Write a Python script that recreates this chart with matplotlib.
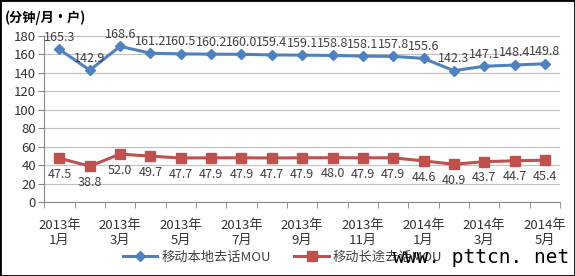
import matplotlib
matplotlib.use("Agg")
import matplotlib.pyplot as plt
from matplotlib.patches import Rectangle

plt.rcParams['font.family'] = ['Noto Sans CJK SC', 'DejaVu Sans']

months = ['2013年\n1月', '', '2013年\n3月', '', '2013年\n5月', '', '2013年\n7月', '',
          '2013年\n9月', '', '2013年\n11月', '', '2014年\n1月', '', '2014年\n3月', '',
          '2014年\n5月']
local_mou = [165.3, 142.9, 168.6, 161.2, 160.5, 160.2, 160.0, 159.4, 159.1,
             158.8, 158.1, 157.8, 155.6, 142.3, 147.1, 148.4, 149.8]
long_mou = [47.5, 38.8, 52.0, 49.7, 47.7, 47.9, 47.9, 47.7, 47.9,
            48.0, 47.9, 47.9, 44.6, 40.9, 43.7, 44.7, 45.4]

blue = '#4F81BD'
red = '#C0504D'
grid = '#BFBFBF'

fig = plt.figure(figsize=(5.75, 2.76), dpi=100)
ax = fig.add_axes([0.077, 0.268, 0.897, 0.602])

x = list(range(len(local_mou)))
ax.plot(x, local_mou, color=blue, lw=2.2, marker='D', ms=5.5, label='移动本地去话MOU')
ax.plot(x, long_mou, color=red, lw=2.2, marker='s', ms=6.5, label='移动长途去话MOU')

for i, v in enumerate(local_mou):
    ax.annotate(f'{v:.1f}', (i, v), xytext=(0, 4), textcoords='offset points',
                ha='center', va='bottom', fontsize=9, color='#404040')
for i, v in enumerate(long_mou):
    ax.annotate(f'{v:.1f}', (i, v), xytext=(0, -7), textcoords='offset points',
                ha='center', va='top', fontsize=9, color='#404040')

ax.set_xlim(-0.5, len(x) - 0.5)
ax.set_ylim(0, 180)
ax.set_yticks(range(0, 181, 20))
ax.yaxis.grid(True, color=grid, lw=0.8)
ax.set_axisbelow(True)

ax.set_xticks(x)
ax.set_xticklabels(months, fontsize=9.5, linespacing=1.25, color='#333333')
ax.set_xticks([i - 0.5 for i in range(len(x) + 1)], minor=True)
ax.tick_params(axis='x', which='major', length=0, pad=12)
ax.tick_params(axis='x', which='minor', length=4, color='#868686')
ax.tick_params(axis='y', length=4, color='#868686', labelsize=9.5, pad=2,
               labelcolor='#333333')

for s in ['top', 'right']:
    ax.spines[s].set_visible(False)
for s in ['left', 'bottom']:
    ax.spines[s].set_color('#868686')

ax.legend(loc='center', bbox_to_anchor=(0.462, -0.33), ncol=2, frameon=False,
          fontsize=9.5, handlelength=2.6, handletextpad=0.3, columnspacing=1.8,
          borderaxespad=0, labelcolor='#404040')

fig.text(0.008, 0.935, '(分钟/月•户)', fontsize=9.5, fontweight='bold', va='center')
fig.text(0.99, 0.068, 'www. pttcn. net', fontsize=14, family='DejaVu Sans Mono',
         ha='right', va='center', color='black')

fig.patches.append(Rectangle((0, 0), 1, 1, transform=fig.transFigure, fill=False,
                             edgecolor='black', lw=2))

fig.savefig('out.png', dpi=100)
